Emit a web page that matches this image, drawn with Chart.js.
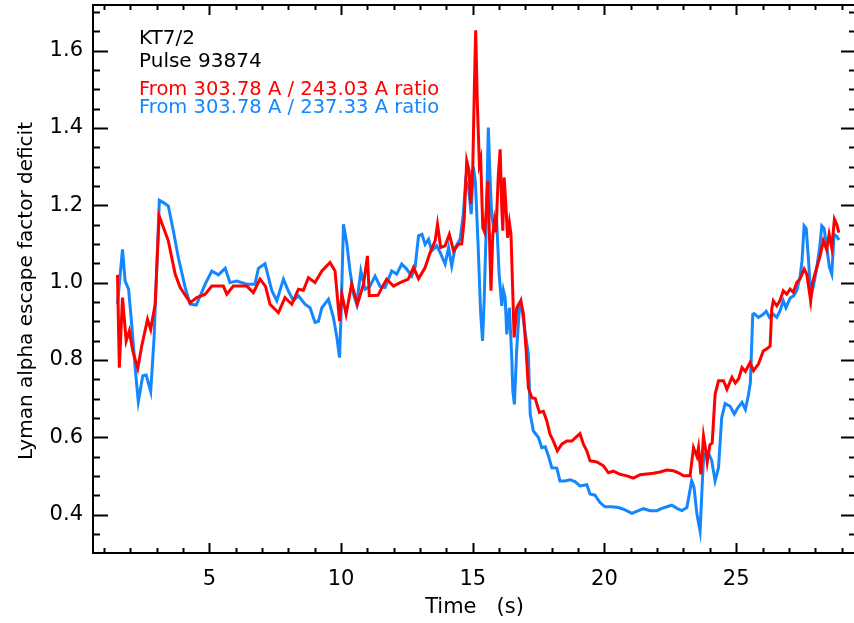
<!DOCTYPE html>
<html>
<head>
<meta charset="utf-8">
<title>Lyman alpha escape factor deficit</title>
<script src="https://cdn.jsdelivr.net/npm/chart.js@4.4.1/dist/chart.umd.min.js"></script>
<style>
    html, body { margin: 0; padding: 0; background: #fff; overflow: hidden; }
    #wrap { width: 856px; height: 623px; }
</style>
</head>
<body>
<div id="wrap"><canvas id="chart" width="856" height="623"></canvas></div>
<script>
// Pulse 93874, KT7/2
const ratio243Time = [1.51, 1.58, 1.70, 1.84, 1.96, 2.09, 2.28, 2.43, 2.65, 2.77, 2.94, 3.09, 3.23, 3.44, 3.70, 3.89, 4.27, 4.52, 4.84, 5.09,
    5.53, 5.66, 5.91, 6.42, 6.67, 6.92, 7.13, 7.30, 7.62, 7.87, 8.13, 8.38, 8.57, 8.76, 9.01, 9.27, 9.58, 9.77, 9.94, 10.03,
    10.19, 10.40, 10.62, 10.85, 11.00, 11.07, 11.40, 11.55, 11.73, 11.99, 12.24, 12.55, 12.75, 12.94, 13.19, 13.38, 13.57, 13.66, 13.78, 13.95,
    14.11, 14.27, 14.45, 14.58, 14.67, 14.77, 14.86, 14.92, 15.00, 15.06, 15.11, 15.17, 15.25, 15.30, 15.38, 15.45, 15.50, 15.57, 15.63, 15.69,
    15.76, 15.82, 15.88, 15.97, 16.04, 16.09, 16.14, 16.19, 16.25, 16.32, 16.39, 16.45, 16.52, 16.57, 16.67, 16.82, 16.92, 17.02, 17.11, 17.24,
    17.37, 17.53, 17.68, 17.81, 17.93, 18.06, 18.21, 18.38, 18.57, 18.76, 18.92, 19.07, 19.20, 19.33, 19.45, 19.71, 19.96, 20.15, 20.34, 20.59,
    20.85, 21.10, 21.35, 21.61, 21.86, 22.11, 22.36, 22.62, 22.81, 23.00, 23.25, 23.38, 23.51, 23.57, 23.66, 23.76, 23.83, 23.90, 24.00, 24.09,
    24.20, 24.33, 24.52, 24.65, 24.84, 24.97, 25.10, 25.22, 25.35, 25.53, 25.66, 25.85, 26.03, 26.19, 26.29, 26.35, 26.41, 26.54, 26.66, 26.79,
    26.92, 27.05, 27.17, 27.30, 27.43, 27.58, 27.68, 27.83, 27.90, 28.06, 28.19, 28.31, 28.44, 28.53, 28.63, 28.73, 28.82, 28.90];
const ratio243 = [1.02, 0.78, 0.961, 0.849, 0.875, 0.823, 0.778, 0.836, 0.905, 0.879, 0.944, 1.173, 1.147, 1.108, 1.022, 0.987, 0.948, 0.961, 0.970, 0.991,
    0.991, 0.970, 0.991, 0.991, 0.974, 1.009, 0.990, 0.944, 0.922, 0.961, 0.944, 0.983, 0.980, 1.013, 1.000, 1.030, 1.052, 1.030, 0.901, 0.970,
    0.918, 0.996, 0.944, 0.996, 1.069, 0.966, 0.967, 0.987, 1.009, 0.991, 1.000, 1.009, 1.039, 1.010, 1.039, 1.078, 1.108, 1.151, 1.091, 1.095,
    1.125, 1.082, 1.099, 1.100, 1.160, 1.315, 1.289, 1.203, 1.298, 1.505, 1.653, 1.470, 1.306, 1.320, 1.142, 1.130, 1.177, 1.263, 1.125, 0.979,
    1.125, 1.160, 1.130, 1.280, 1.345, 1.210, 1.134, 1.272, 1.210, 1.116, 1.155, 1.125, 0.970, 0.858, 0.935, 0.953, 0.920, 0.830, 0.728, 0.702,
    0.700, 0.664, 0.667, 0.642, 0.608, 0.590, 0.565, 0.582, 0.590, 0.590, 0.600, 0.609, 0.582, 0.565, 0.539, 0.536, 0.526, 0.508, 0.512, 0.504,
    0.500, 0.494, 0.503, 0.505, 0.507, 0.510, 0.515, 0.513, 0.508, 0.500, 0.500, 0.573, 0.550, 0.573, 0.504, 0.603, 0.573, 0.535, 0.580, 0.585,
    0.711, 0.746, 0.746, 0.724, 0.755, 0.740, 0.752, 0.780, 0.770, 0.793, 0.772, 0.790, 0.823, 0.830, 0.836, 0.931, 0.953, 0.940, 0.953, 0.979,
    0.970, 0.983, 0.975, 1.000, 1.010, 1.035, 1.022, 0.953, 1.000, 1.039, 1.070, 1.108, 1.085, 1.125, 1.090, 1.164, 1.150, 1.129];

const ratio237Time = [1.51, 1.70, 1.80, 1.93, 2.05, 2.18, 2.30, 2.47, 2.60, 2.77, 2.90, 3.10, 3.25, 3.44, 3.63, 3.82, 4.08, 4.27, 4.50, 4.84,
    5.09, 5.34, 5.60, 5.78, 6.04, 6.42, 6.73, 6.86, 7.11, 7.37, 7.56, 7.81, 8.00, 8.19, 8.38, 8.63, 8.82, 9.01, 9.14, 9.27,
    9.52, 9.71, 9.84, 9.94, 10.00, 10.09, 10.22, 10.34, 10.47, 10.59, 10.75, 10.91, 11.09, 11.29, 11.48, 11.67, 11.92, 12.11, 12.30, 12.49,
    12.68, 12.81, 12.94, 13.07, 13.19, 13.32, 13.44, 13.63, 13.76, 13.95, 14.08, 14.20, 14.33, 14.52, 14.64, 14.73, 14.84, 14.94, 15.02, 15.10,
    15.20, 15.30, 15.37, 15.43, 15.50, 15.59, 15.66, 15.72, 15.78, 15.90, 16.00, 16.10, 16.16, 16.23, 16.29, 16.39, 16.48, 16.52, 16.58, 16.67,
    16.77, 16.83, 16.97, 17.11, 17.18, 17.30, 17.49, 17.62, 17.75, 17.88, 18.00, 18.19, 18.31, 18.50, 18.69, 18.88, 19.07, 19.33, 19.45, 19.64,
    19.83, 20.02, 20.27, 20.53, 20.78, 21.04, 21.29, 21.48, 21.73, 21.99, 22.18, 22.37, 22.56, 22.75, 22.94, 23.13, 23.31, 23.40, 23.51, 23.63,
    23.72, 23.77, 23.94, 24.07, 24.20, 24.33, 24.45, 24.58, 24.77, 24.93, 25.05, 25.22, 25.35, 25.46, 25.54, 25.63, 25.68, 25.85, 26.03, 26.14,
    26.27, 26.41, 26.54, 26.66, 26.79, 26.89, 27.05, 27.17, 27.30, 27.43, 27.50, 27.58, 27.66, 27.75, 27.83, 27.93, 28.04, 28.17, 28.25, 28.34,
    28.44, 28.54, 28.63, 28.72, 28.82, 28.90];
const ratio237 = [0.944, 1.086, 1.004, 0.983, 0.892, 0.780, 0.692, 0.759, 0.761, 0.718, 0.858, 1.213, 1.207, 1.198, 1.134, 1.065, 0.987, 0.944, 0.942, 0.996,
    1.030, 1.020, 1.037, 1.000, 1.004, 0.996, 0.996, 1.037, 1.049, 0.979, 0.953, 1.009, 0.978, 0.953, 0.966, 0.944, 0.935, 0.897, 0.900, 0.935,
    0.957, 0.909, 0.858, 0.806, 0.920, 1.151, 1.099, 1.030, 0.970, 0.944, 1.030, 0.983, 0.990, 1.017, 0.990, 0.987, 1.030, 1.022, 1.048, 1.035,
    1.017, 1.040, 1.121, 1.125, 1.099, 1.112, 1.082, 1.095, 1.078, 1.048, 1.090, 1.043, 1.090, 1.113, 1.177, 1.263, 1.246, 1.177, 1.300, 1.260,
    1.100, 0.920, 0.849, 0.950, 1.120, 1.401, 1.263, 1.170, 1.150, 1.170, 1.022, 0.940, 0.980, 0.960, 0.866, 0.935, 0.806, 0.720, 0.685, 0.830,
    0.935, 0.950, 0.880, 0.815, 0.660, 0.616, 0.600, 0.573, 0.575, 0.550, 0.521, 0.520, 0.487, 0.487, 0.490, 0.485, 0.474, 0.477, 0.453, 0.450,
    0.431, 0.420, 0.420, 0.418, 0.412, 0.403, 0.410, 0.415, 0.410, 0.410, 0.416, 0.420, 0.424, 0.416, 0.410, 0.418, 0.487, 0.470, 0.401, 0.357,
    0.490, 0.556, 0.560, 0.540, 0.487, 0.521, 0.650, 0.687, 0.680, 0.660, 0.675, 0.690, 0.672, 0.707, 0.741, 0.918, 0.920, 0.910, 0.918, 0.926,
    0.910, 0.918, 0.910, 0.926, 0.953, 0.935, 0.960, 0.965, 0.979, 1.017, 1.056, 1.147, 1.140, 1.056, 0.961, 0.990, 1.030, 1.090, 1.147, 1.140,
    1.090, 1.040, 1.022, 1.125, 1.120, 1.110];

const xMajorTicks = [5, 10, 15, 20, 25];
const yMajorTicks = [0.4, 0.6, 0.8, 1.0, 1.2, 1.4, 1.6];
const annotations = [
    { text: 'KT7/2', color: '#000000', size: 20 },
    { text: 'Pulse 93874', color: '#000000', size: 20 },
    { text: 'From 303.78 A / 243.03 A ratio', color: '#ff0000', size: 19.5 },
    { text: 'From 303.78 A / 237.33 A ratio', color: '#1487ff', size: 19.5 }
];

const FONT = '"DejaVu Sans", "Liberation Sans", sans-serif';

function toPoints(xs, ys) {
    return xs.map((t, i) => ({ x: t, y: ys[i] }));
}

// IDL style box: inward ticks on all four sides, text block in upper left
const idlFrame = {
    id: 'idlFrame',
    afterDatasetsDraw(chart) {
        const { ctx, chartArea: a, scales: { x, y } } = chart;
        ctx.save();
        ctx.strokeStyle = '#000';
        ctx.lineWidth = 2;
        ctx.strokeRect(a.left, a.top, a.right - a.left, a.bottom - a.top);

        ctx.beginPath();
        for (let v = Math.ceil(x.min); v <= x.max; v++) {
            const px = Math.round(x.getPixelForValue(v)) + 0.5;
            const len = xMajorTicks.includes(v) ? 10 : 5;
            ctx.moveTo(px, a.bottom); ctx.lineTo(px, a.bottom - len);
            ctx.moveTo(px, a.top); ctx.lineTo(px, a.top + len);
        }
        for (let i = Math.ceil(y.min / 0.05); i * 0.05 <= y.max; i++) {
            const py = Math.round(y.getPixelForValue(i * 0.05)) + 0.5;
            const len = i % 4 === 0 ? 15 : 7;
            ctx.moveTo(a.left, py); ctx.lineTo(a.left + len, py);
            ctx.moveTo(a.right, py); ctx.lineTo(a.right - len, py);
        }
        ctx.stroke();

        // y axis title
        ctx.fillStyle = '#000';
        ctx.font = '20px ' + FONT;
        ctx.textAlign = 'center';
        ctx.textBaseline = 'middle';
        ctx.translate(27, 291);
        ctx.rotate(-Math.PI / 2);
        ctx.fillText('Lyman alpha escape factor deficit', 0, 0);
        ctx.restore();

        ctx.save();
        ctx.textAlign = 'left';
        ctx.textBaseline = 'alphabetic';
        const baselines = [44, 67, 95, 113];
        annotations.forEach((a2, i) => {
            ctx.font = a2.size + 'px ' + FONT;
            ctx.fillStyle = a2.color;
            ctx.fillText(a2.text, 139, baselines[i]);
        });
        ctx.restore();
    }
};

const ctx = document.getElementById('chart').getContext('2d');
new Chart(ctx, {
    type: 'line',
    data: {
        datasets: [{
            label: 'From 303.78 A / 243.03 A ratio',
            data: toPoints(ratio243Time, ratio243),
            borderColor: '#ff0000',
            borderWidth: 3,
            pointRadius: 0,
            tension: 0,
            fill: false
        }, {
            label: 'From 303.78 A / 237.33 A ratio',
            data: toPoints(ratio237Time, ratio237),
            borderColor: '#1487ff',
            borderWidth: 3,
            pointRadius: 0,
            tension: 0,
            fill: false
        }]
    },
    options: {
        responsive: false,
        animation: false,
        layout: { padding: { top: 5, right: 0, left: 0, bottom: 0 } },
        scales: {
            x: {
                type: 'linear',
                min: 0.58,
                max: 29.55,
                grid: { display: false, drawTicks: false },
                border: { display: false },
                afterFit: (scale) => {
                    scale.height = 70;
                    scale.paddingLeft = 0;
                    scale.paddingRight = 0;
                },
                afterBuildTicks: (scale) => { scale.ticks = xMajorTicks.map(v => ({ value: v })); },
                ticks: {
                    padding: 14,
                    color: '#000',
                    font: { family: FONT, size: 21 },
                    maxRotation: 0
                },
                title: {
                    display: true,
                    text: 'Time   (s)',
                    color: '#000',
                    font: { family: FONT, size: 21 },
                    padding: { top: 0, bottom: 3 }
                }
            },
            y: {
                min: 0.3004,
                max: 1.7182,
                grid: { display: false, drawTicks: false },
                border: { display: false },
                afterFit: (scale) => {
                    scale.width = 93;
                    scale.paddingTop = 0;
                    scale.paddingBottom = 0;
                },
                afterBuildTicks: (scale) => { scale.ticks = yMajorTicks.map(v => ({ value: v })); },
                ticks: {
                    padding: 10,
                    color: '#000',
                    font: { family: FONT, size: 21 },
                    callback: (v) => Number(v).toFixed(1)
                }
            }
        },
        plugins: {
            legend: { display: false },
            tooltip: { enabled: false }
        }
    },
    plugins: [idlFrame]
});
</script>
</body>
</html>
